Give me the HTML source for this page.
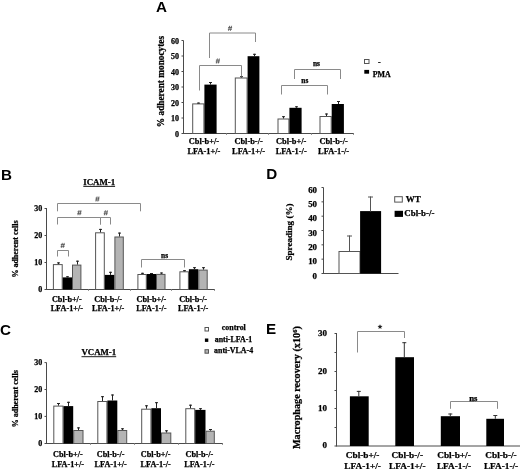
<!DOCTYPE html>
<html><head><meta charset="utf-8"><style>
html,body{margin:0;padding:0;background:#fff;width:520px;height:469px;overflow:hidden}
svg{display:block;filter:blur(0.3px)}
</style></head><body>
<svg width="520" height="469" viewBox="0 0 520 469" shape-rendering="auto">
<rect width="520" height="469" fill="#fff"/>
<text x="161.4" y="11.7" font-family="Liberation Sans" font-weight="bold" font-size="15.2" text-anchor="middle" fill="#000">A</text>
<line x1="183.5" y1="40.5" x2="183.5" y2="134.0" stroke="#4a4a4a" stroke-width="1"/>
<line x1="183.5" y1="133.5" x2="354" y2="133.5" stroke="#4a4a4a" stroke-width="1"/>
<line x1="181.5" y1="133.5" x2="183.5" y2="133.5" stroke="#4a4a4a" stroke-width="1"/>
<text x="179" y="136.5" font-family="Liberation Serif" font-weight="bold" font-size="8" text-anchor="end" fill="#000" stroke="#000" stroke-width="0.25">0</text>
<line x1="181.5" y1="118.0" x2="183.5" y2="118.0" stroke="#4a4a4a" stroke-width="1"/>
<text x="179" y="121.0" font-family="Liberation Serif" font-weight="bold" font-size="8" text-anchor="end" fill="#000" stroke="#000" stroke-width="0.25">10</text>
<line x1="181.5" y1="102.5" x2="183.5" y2="102.5" stroke="#4a4a4a" stroke-width="1"/>
<text x="179" y="105.5" font-family="Liberation Serif" font-weight="bold" font-size="8" text-anchor="end" fill="#000" stroke="#000" stroke-width="0.25">20</text>
<line x1="181.5" y1="87.0" x2="183.5" y2="87.0" stroke="#4a4a4a" stroke-width="1"/>
<text x="179" y="90.0" font-family="Liberation Serif" font-weight="bold" font-size="8" text-anchor="end" fill="#000" stroke="#000" stroke-width="0.25">30</text>
<line x1="181.5" y1="71.5" x2="183.5" y2="71.5" stroke="#4a4a4a" stroke-width="1"/>
<text x="179" y="74.5" font-family="Liberation Serif" font-weight="bold" font-size="8" text-anchor="end" fill="#000" stroke="#000" stroke-width="0.25">40</text>
<line x1="181.5" y1="56.0" x2="183.5" y2="56.0" stroke="#4a4a4a" stroke-width="1"/>
<text x="179" y="59.0" font-family="Liberation Serif" font-weight="bold" font-size="8" text-anchor="end" fill="#000" stroke="#000" stroke-width="0.25">50</text>
<line x1="181.5" y1="40.5" x2="183.5" y2="40.5" stroke="#4a4a4a" stroke-width="1"/>
<text x="179" y="43.5" font-family="Liberation Serif" font-weight="bold" font-size="8" text-anchor="end" fill="#000" stroke="#000" stroke-width="0.25">60</text>
<line x1="226.5" y1="133.5" x2="226.5" y2="135.0" stroke="#999" stroke-width="1"/>
<line x1="268.5" y1="133.5" x2="268.5" y2="135.0" stroke="#999" stroke-width="1"/>
<line x1="311.5" y1="133.5" x2="311.5" y2="135.0" stroke="#999" stroke-width="1"/>
<line x1="353.5" y1="133.5" x2="353.5" y2="135.0" stroke="#999" stroke-width="1"/>
<text x="164.3" y="81.5" font-family="Liberation Serif" font-weight="bold" font-size="9.3" text-anchor="middle" fill="#000" stroke="#000" stroke-width="0.25" transform="rotate(-90 164.3 81.5)">% adherent monocytes</text>
<rect x="192.7" y="103.9" width="11.200000000000017" height="29.599999999999994" fill="#fff" stroke="#555" stroke-width="1"/>
<line x1="198.5" y1="102.6" x2="198.5" y2="103.4" stroke="#222" stroke-width="1"/>
<line x1="197.0" y1="103.1" x2="200.0" y2="103.1" stroke="#222" stroke-width="1"/>
<rect x="204.4" y="84.6" width="12.199999999999989" height="48.900000000000006" fill="#000"/>
<line x1="210.5" y1="82" x2="210.5" y2="84.6" stroke="#222" stroke-width="1"/>
<line x1="209.0" y1="82.5" x2="212.0" y2="82.5" stroke="#222" stroke-width="1"/>
<rect x="235.3" y="78.0" width="11.799999999999983" height="55.5" fill="#fff" stroke="#555" stroke-width="1"/>
<line x1="241.5" y1="76.2" x2="241.5" y2="77.5" stroke="#222" stroke-width="1"/>
<line x1="240.0" y1="76.7" x2="243.0" y2="76.7" stroke="#222" stroke-width="1"/>
<rect x="247.6" y="56.2" width="11.799999999999983" height="77.3" fill="#000"/>
<line x1="254.5" y1="53.8" x2="254.5" y2="56.2" stroke="#222" stroke-width="1"/>
<line x1="253.0" y1="54.3" x2="256.0" y2="54.3" stroke="#222" stroke-width="1"/>
<rect x="278.0" y="119.0" width="10.899999999999977" height="14.5" fill="#fff" stroke="#555" stroke-width="1"/>
<line x1="283.5" y1="116.2" x2="283.5" y2="118.5" stroke="#222" stroke-width="1"/>
<line x1="282.0" y1="116.7" x2="285.0" y2="116.7" stroke="#222" stroke-width="1"/>
<rect x="289.4" y="107.8" width="12.200000000000045" height="25.700000000000003" fill="#000"/>
<line x1="296.5" y1="106.3" x2="296.5" y2="107.8" stroke="#222" stroke-width="1"/>
<line x1="295.0" y1="106.8" x2="298.0" y2="106.8" stroke="#222" stroke-width="1"/>
<rect x="320.0" y="116.5" width="11.199999999999989" height="17.0" fill="#fff" stroke="#555" stroke-width="1"/>
<line x1="326.5" y1="113.5" x2="326.5" y2="116.0" stroke="#222" stroke-width="1"/>
<line x1="325.0" y1="114.0" x2="328.0" y2="114.0" stroke="#222" stroke-width="1"/>
<rect x="331.7" y="104.0" width="12.199999999999989" height="29.5" fill="#000"/>
<line x1="338.5" y1="101.0" x2="338.5" y2="104.0" stroke="#222" stroke-width="1"/>
<line x1="337.0" y1="101.5" x2="340.0" y2="101.5" stroke="#222" stroke-width="1"/>
<polyline points="209.5,58 209.5,33 255.5,33 255.5,42" fill="none" stroke="#8a8a8a" stroke-width="1"/>
<path d="M229.65,25.80L228.55,30.80M231.55,25.80L230.45,30.80M228.10,27.45H232.10M227.90,29.25H231.90" stroke="#555" stroke-width="0.85" fill="none"/>
<polyline points="199.5,90.5 199.5,65.5 241.5,65.5 241.5,76.5" fill="none" stroke="#8a8a8a" stroke-width="1"/>
<path d="M217.45,58.50L216.35,63.50M219.35,58.50L218.25,63.50M215.90,60.15H219.90M215.70,61.95H219.70" stroke="#555" stroke-width="0.85" fill="none"/>
<polyline points="294.5,79 294.5,69.5 340.5,69.5 340.5,79" fill="none" stroke="#8a8a8a" stroke-width="1"/>
<text x="316.4" y="66.0" font-family="Liberation Serif" font-weight="bold" font-size="7.4" text-anchor="middle" fill="#000" stroke="#000" stroke-width="0.25">ns</text>
<polyline points="281.5,94.5 281.5,85.5 327.5,85.5 327.5,94.5" fill="none" stroke="#8a8a8a" stroke-width="1"/>
<text x="304.8" y="83.0" font-family="Liberation Serif" font-weight="bold" font-size="7.4" text-anchor="middle" fill="#000" stroke="#000" stroke-width="0.25">ns</text>
<text x="203.9" y="143.9" font-family="Liberation Serif" font-weight="bold" font-size="8.4" text-anchor="middle" fill="#000" stroke="#000" stroke-width="0.25">Cbl-b+/-</text>
<text x="203.9" y="154.0" font-family="Liberation Serif" font-weight="bold" font-size="8.4" text-anchor="middle" fill="#000" stroke="#000" stroke-width="0.25">LFA-1+/-</text>
<text x="248.6" y="143.9" font-family="Liberation Serif" font-weight="bold" font-size="8.4" text-anchor="middle" fill="#000" stroke="#000" stroke-width="0.25">Cbl-b-/-</text>
<text x="248.6" y="154.0" font-family="Liberation Serif" font-weight="bold" font-size="8.4" text-anchor="middle" fill="#000" stroke="#000" stroke-width="0.25">LFA-1+/-</text>
<text x="291.2" y="143.9" font-family="Liberation Serif" font-weight="bold" font-size="8.4" text-anchor="middle" fill="#000" stroke="#000" stroke-width="0.25">Cbl-b+/-</text>
<text x="291.2" y="154.0" font-family="Liberation Serif" font-weight="bold" font-size="8.4" text-anchor="middle" fill="#000" stroke="#000" stroke-width="0.25">LFA-1-/-</text>
<text x="333.6" y="143.9" font-family="Liberation Serif" font-weight="bold" font-size="8.4" text-anchor="middle" fill="#000" stroke="#000" stroke-width="0.25">Cbl-b-/-</text>
<text x="333.6" y="154.0" font-family="Liberation Serif" font-weight="bold" font-size="8.4" text-anchor="middle" fill="#000" stroke="#000" stroke-width="0.25">LFA-1-/-</text>
<rect x="364.5" y="59.5" width="4.5" height="4" fill="#fff" stroke="#555" stroke-width="1"/>
<rect x="364.3" y="69.9" width="4.8" height="3.8" fill="#000"/>
<text x="378" y="64.5" font-family="Liberation Serif" font-weight="bold" font-size="8" text-anchor="start" fill="#000" stroke="#000" stroke-width="0.25">-</text>
<text x="372.8" y="76.6" font-family="Liberation Serif" font-weight="bold" font-size="7.9" text-anchor="start" fill="#000" stroke="#000" stroke-width="0.25">PMA</text>
<text x="6.6" y="179.8" font-family="Liberation Sans" font-weight="bold" font-size="15.2" text-anchor="middle" fill="#000">B</text>
<text x="99.2" y="184.9" font-family="Liberation Serif" font-weight="bold" font-size="8.9" text-anchor="middle" fill="#000" stroke="#000" stroke-width="0.25">ICAM-1</text>
<line x1="83.3" y1="186.4" x2="115.1" y2="186.4" stroke="#000" stroke-width="0.9"/>
<line x1="46.5" y1="208" x2="46.5" y2="290.0" stroke="#4a4a4a" stroke-width="1"/>
<line x1="46.5" y1="289.5" x2="215" y2="289.5" stroke="#4a4a4a" stroke-width="1"/>
<line x1="44.5" y1="289.5" x2="46.5" y2="289.5" stroke="#4a4a4a" stroke-width="1"/>
<text x="42.2" y="292.2" font-family="Liberation Serif" font-weight="bold" font-size="8" text-anchor="end" fill="#000" stroke="#000" stroke-width="0.25">0</text>
<line x1="44.5" y1="262.5" x2="46.5" y2="262.5" stroke="#4a4a4a" stroke-width="1"/>
<text x="42.2" y="265.2" font-family="Liberation Serif" font-weight="bold" font-size="8" text-anchor="end" fill="#000" stroke="#000" stroke-width="0.25">10</text>
<line x1="44.5" y1="235.5" x2="46.5" y2="235.5" stroke="#4a4a4a" stroke-width="1"/>
<text x="42.2" y="238.2" font-family="Liberation Serif" font-weight="bold" font-size="8" text-anchor="end" fill="#000" stroke="#000" stroke-width="0.25">20</text>
<line x1="44.5" y1="208.5" x2="46.5" y2="208.5" stroke="#4a4a4a" stroke-width="1"/>
<text x="42.2" y="211.2" font-family="Liberation Serif" font-weight="bold" font-size="8" text-anchor="end" fill="#000" stroke="#000" stroke-width="0.25">30</text>
<line x1="88.5" y1="289.5" x2="88.5" y2="291.0" stroke="#999" stroke-width="1"/>
<line x1="130.5" y1="289.5" x2="130.5" y2="291.0" stroke="#999" stroke-width="1"/>
<line x1="171.5" y1="289.5" x2="171.5" y2="291.0" stroke="#999" stroke-width="1"/>
<line x1="214.5" y1="289.5" x2="214.5" y2="291.0" stroke="#999" stroke-width="1"/>
<text x="18.2" y="249" font-family="Liberation Serif" font-weight="bold" font-size="8" text-anchor="middle" fill="#000" stroke="#000" stroke-width="0.25" transform="rotate(-90 18.2 249)">% adherent cells</text>
<rect x="53.4" y="264.6" width="8.800000000000004" height="24.899999999999977" fill="#fff" stroke="#555" stroke-width="1"/>
<line x1="58.5" y1="262.4" x2="58.5" y2="264.1" stroke="#222" stroke-width="1"/>
<line x1="57.0" y1="262.9" x2="60.0" y2="262.9" stroke="#222" stroke-width="1"/>
<rect x="62.7" y="277.4" width="9.299999999999997" height="12.100000000000023" fill="#000"/>
<line x1="67.5" y1="276.3" x2="67.5" y2="277.4" stroke="#222" stroke-width="1"/>
<line x1="66.0" y1="276.8" x2="69.0" y2="276.8" stroke="#222" stroke-width="1"/>
<rect x="72.5" y="265.1" width="8.400000000000006" height="24.399999999999977" fill="#b4b4b4" stroke="#555" stroke-width="1"/>
<line x1="77.5" y1="260.7" x2="77.5" y2="264.6" stroke="#222" stroke-width="1"/>
<line x1="76.0" y1="261.2" x2="79.0" y2="261.2" stroke="#222" stroke-width="1"/>
<rect x="95.6" y="232.8" width="8.700000000000003" height="56.69999999999999" fill="#fff" stroke="#555" stroke-width="1"/>
<line x1="100.5" y1="228.9" x2="100.5" y2="232.3" stroke="#222" stroke-width="1"/>
<line x1="99.0" y1="229.4" x2="102.0" y2="229.4" stroke="#222" stroke-width="1"/>
<rect x="104.8" y="274.9" width="9.600000000000009" height="14.600000000000023" fill="#000"/>
<line x1="110.5" y1="271.8" x2="110.5" y2="274.9" stroke="#222" stroke-width="1"/>
<line x1="109.0" y1="272.3" x2="112.0" y2="272.3" stroke="#222" stroke-width="1"/>
<rect x="114.9" y="237.0" width="8.399999999999991" height="52.5" fill="#b4b4b4" stroke="#555" stroke-width="1"/>
<line x1="119.5" y1="232.6" x2="119.5" y2="236.5" stroke="#222" stroke-width="1"/>
<line x1="118.0" y1="233.1" x2="121.0" y2="233.1" stroke="#222" stroke-width="1"/>
<rect x="137.9" y="274.5" width="8.400000000000006" height="15.0" fill="#fff" stroke="#555" stroke-width="1"/>
<line x1="142.5" y1="272.8" x2="142.5" y2="274.0" stroke="#222" stroke-width="1"/>
<line x1="141.0" y1="273.3" x2="144.0" y2="273.3" stroke="#222" stroke-width="1"/>
<rect x="146.8" y="274.0" width="9.199999999999989" height="15.5" fill="#000"/>
<line x1="151.5" y1="273.0" x2="151.5" y2="274.0" stroke="#222" stroke-width="1"/>
<line x1="150.0" y1="273.5" x2="153.0" y2="273.5" stroke="#222" stroke-width="1"/>
<rect x="156.5" y="274.4" width="8.5" height="15.100000000000023" fill="#b4b4b4" stroke="#555" stroke-width="1"/>
<line x1="161.5" y1="272.5" x2="161.5" y2="273.9" stroke="#222" stroke-width="1"/>
<line x1="160.0" y1="273.0" x2="163.0" y2="273.0" stroke="#222" stroke-width="1"/>
<rect x="179.9" y="271.8" width="8.5" height="17.69999999999999" fill="#fff" stroke="#555" stroke-width="1"/>
<line x1="184.5" y1="270.2" x2="184.5" y2="271.3" stroke="#222" stroke-width="1"/>
<line x1="183.0" y1="270.7" x2="186.0" y2="270.7" stroke="#222" stroke-width="1"/>
<rect x="188.9" y="269.2" width="9.400000000000006" height="20.30000000000001" fill="#000"/>
<line x1="194.5" y1="267.2" x2="194.5" y2="269.2" stroke="#222" stroke-width="1"/>
<line x1="193.0" y1="267.7" x2="196.0" y2="267.7" stroke="#222" stroke-width="1"/>
<rect x="198.8" y="270.1" width="8.399999999999977" height="19.399999999999977" fill="#b4b4b4" stroke="#555" stroke-width="1"/>
<line x1="203.5" y1="267.2" x2="203.5" y2="269.6" stroke="#222" stroke-width="1"/>
<line x1="202.0" y1="267.7" x2="205.0" y2="267.7" stroke="#222" stroke-width="1"/>
<polyline points="57.5,211.3 57.5,203.5 140.5,203.5 140.5,211.3" fill="none" stroke="#8a8a8a" stroke-width="1"/>
<path d="M97.05,196.50L95.95,201.50M98.95,196.50L97.85,201.50M95.50,198.15H99.50M95.30,199.95H99.30" stroke="#555" stroke-width="0.85" fill="none"/>
<polyline points="57.5,224.5 57.5,217.5 100.5,217.5 100.5,224.5" fill="none" stroke="#8a8a8a" stroke-width="1"/>
<path d="M79.05,210.20L77.95,215.20M80.95,210.20L79.85,215.20M77.50,211.85H81.50M77.30,213.65H81.30" stroke="#555" stroke-width="0.85" fill="none"/>
<polyline points="100.5,224.5 100.5,217.5 110.5,217.5 110.5,224.5" fill="none" stroke="#8a8a8a" stroke-width="1"/>
<path d="M105.45,210.30L104.35,215.30M107.35,210.30L106.25,215.30M103.90,211.95H107.90M103.70,213.75H107.70" stroke="#555" stroke-width="0.85" fill="none"/>
<polyline points="57.5,256.5 57.5,250.5 68.5,250.5 68.5,256.5" fill="none" stroke="#8a8a8a" stroke-width="1"/>
<path d="M62.35,242.90L61.25,247.90M64.25,242.90L63.15,247.90M60.80,244.55H64.80M60.60,246.35H64.60" stroke="#555" stroke-width="0.85" fill="none"/>
<polyline points="141.5,267.5 141.5,259.5 184.5,259.5 184.5,267.5" fill="none" stroke="#8a8a8a" stroke-width="1"/>
<text x="164.6" y="258.3" font-family="Liberation Serif" font-weight="bold" font-size="7.4" text-anchor="middle" fill="#000" stroke="#000" stroke-width="0.25">ns</text>
<text x="66.8" y="301.8" font-family="Liberation Serif" font-weight="bold" font-size="8.2" text-anchor="middle" fill="#000" stroke="#000" stroke-width="0.25">Cbl-b+/-</text>
<text x="66.8" y="311.4" font-family="Liberation Serif" font-weight="bold" font-size="8.2" text-anchor="middle" fill="#000" stroke="#000" stroke-width="0.25">LFA-1+/-</text>
<text x="108.1" y="301.8" font-family="Liberation Serif" font-weight="bold" font-size="8.2" text-anchor="middle" fill="#000" stroke="#000" stroke-width="0.25">Cbl-b-/-</text>
<text x="108.1" y="311.4" font-family="Liberation Serif" font-weight="bold" font-size="8.2" text-anchor="middle" fill="#000" stroke="#000" stroke-width="0.25">LFA-1+/-</text>
<text x="151.4" y="301.8" font-family="Liberation Serif" font-weight="bold" font-size="8.2" text-anchor="middle" fill="#000" stroke="#000" stroke-width="0.25">Cbl-b+/-</text>
<text x="151.4" y="311.4" font-family="Liberation Serif" font-weight="bold" font-size="8.2" text-anchor="middle" fill="#000" stroke="#000" stroke-width="0.25">LFA-1-/-</text>
<text x="193.1" y="301.8" font-family="Liberation Serif" font-weight="bold" font-size="8.2" text-anchor="middle" fill="#000" stroke="#000" stroke-width="0.25">Cbl-b-/-</text>
<text x="193.1" y="311.4" font-family="Liberation Serif" font-weight="bold" font-size="8.2" text-anchor="middle" fill="#000" stroke="#000" stroke-width="0.25">LFA-1-/-</text>
<text x="5.5" y="335.3" font-family="Liberation Sans" font-weight="bold" font-size="15.2" text-anchor="middle" fill="#000">C</text>
<text x="98.8" y="355.1" font-family="Liberation Serif" font-weight="bold" font-size="8.8" text-anchor="middle" fill="#000" stroke="#000" stroke-width="0.25">VCAM-1</text>
<line x1="81.5" y1="356.7" x2="116.2" y2="356.7" stroke="#000" stroke-width="0.9"/>
<line x1="46.5" y1="362.5" x2="46.5" y2="444.0" stroke="#4a4a4a" stroke-width="1"/>
<line x1="46.5" y1="443.5" x2="223" y2="443.5" stroke="#4a4a4a" stroke-width="1"/>
<line x1="44.5" y1="443.5" x2="46.5" y2="443.5" stroke="#4a4a4a" stroke-width="1"/>
<text x="42.2" y="446.2" font-family="Liberation Serif" font-weight="bold" font-size="8" text-anchor="end" fill="#000" stroke="#000" stroke-width="0.25">0</text>
<line x1="44.5" y1="416.40000000000003" x2="46.5" y2="416.40000000000003" stroke="#4a4a4a" stroke-width="1"/>
<text x="42.2" y="419.1" font-family="Liberation Serif" font-weight="bold" font-size="8" text-anchor="end" fill="#000" stroke="#000" stroke-width="0.25">10</text>
<line x1="44.5" y1="389.5" x2="46.5" y2="389.5" stroke="#4a4a4a" stroke-width="1"/>
<text x="42.2" y="392.2" font-family="Liberation Serif" font-weight="bold" font-size="8" text-anchor="end" fill="#000" stroke="#000" stroke-width="0.25">20</text>
<line x1="44.5" y1="362.6" x2="46.5" y2="362.6" stroke="#4a4a4a" stroke-width="1"/>
<text x="42.2" y="365.3" font-family="Liberation Serif" font-weight="bold" font-size="8" text-anchor="end" fill="#000" stroke="#000" stroke-width="0.25">30</text>
<line x1="90.5" y1="443.5" x2="90.5" y2="445.0" stroke="#999" stroke-width="1"/>
<line x1="134.5" y1="443.5" x2="134.5" y2="445.0" stroke="#999" stroke-width="1"/>
<line x1="178.5" y1="443.5" x2="178.5" y2="445.0" stroke="#999" stroke-width="1"/>
<line x1="222.5" y1="443.5" x2="222.5" y2="445.0" stroke="#999" stroke-width="1"/>
<text x="18.2" y="398.7" font-family="Liberation Serif" font-weight="bold" font-size="8" text-anchor="middle" fill="#000" stroke="#000" stroke-width="0.25" transform="rotate(-90 18.2 398.7)">% adherent cells</text>
<rect x="53.8" y="406.1" width="9.200000000000003" height="37.39999999999998" fill="#fff" stroke="#555" stroke-width="1"/>
<line x1="58.5" y1="403.0" x2="58.5" y2="405.6" stroke="#222" stroke-width="1"/>
<line x1="57.0" y1="403.5" x2="60.0" y2="403.5" stroke="#222" stroke-width="1"/>
<rect x="63.5" y="406.1" width="9.700000000000003" height="37.39999999999998" fill="#000"/>
<line x1="68.5" y1="401.8" x2="68.5" y2="406.1" stroke="#222" stroke-width="1"/>
<line x1="67.0" y1="402.3" x2="70.0" y2="402.3" stroke="#222" stroke-width="1"/>
<rect x="73.7" y="430.5" width="9.299999999999997" height="13.0" fill="#b4b4b4" stroke="#555" stroke-width="1"/>
<line x1="78.5" y1="427.4" x2="78.5" y2="430.0" stroke="#222" stroke-width="1"/>
<line x1="77.0" y1="427.9" x2="80.0" y2="427.9" stroke="#222" stroke-width="1"/>
<rect x="97.8" y="401.5" width="9.100000000000009" height="42.0" fill="#fff" stroke="#555" stroke-width="1"/>
<line x1="102.5" y1="396.2" x2="102.5" y2="401.0" stroke="#222" stroke-width="1"/>
<line x1="101.0" y1="396.7" x2="104.0" y2="396.7" stroke="#222" stroke-width="1"/>
<rect x="107.4" y="400.5" width="9.899999999999991" height="43.0" fill="#000"/>
<line x1="112.5" y1="394.5" x2="112.5" y2="400.5" stroke="#222" stroke-width="1"/>
<line x1="111.0" y1="395.0" x2="114.0" y2="395.0" stroke="#222" stroke-width="1"/>
<rect x="117.8" y="430.5" width="8.900000000000006" height="13.0" fill="#b4b4b4" stroke="#555" stroke-width="1"/>
<line x1="122.5" y1="428.3" x2="122.5" y2="430.0" stroke="#222" stroke-width="1"/>
<line x1="121.0" y1="428.8" x2="124.0" y2="428.8" stroke="#222" stroke-width="1"/>
<rect x="141.7" y="409.2" width="9.200000000000017" height="34.30000000000001" fill="#fff" stroke="#555" stroke-width="1"/>
<line x1="146.5" y1="405.3" x2="146.5" y2="408.7" stroke="#222" stroke-width="1"/>
<line x1="145.0" y1="405.8" x2="148.0" y2="405.8" stroke="#222" stroke-width="1"/>
<rect x="151.4" y="408.2" width="9.599999999999994" height="35.30000000000001" fill="#000"/>
<line x1="156.5" y1="402.2" x2="156.5" y2="408.2" stroke="#222" stroke-width="1"/>
<line x1="155.0" y1="402.7" x2="158.0" y2="402.7" stroke="#222" stroke-width="1"/>
<rect x="161.5" y="433.0" width="9.300000000000011" height="10.5" fill="#b4b4b4" stroke="#555" stroke-width="1"/>
<line x1="166.5" y1="430.3" x2="166.5" y2="432.5" stroke="#222" stroke-width="1"/>
<line x1="165.0" y1="430.8" x2="168.0" y2="430.8" stroke="#222" stroke-width="1"/>
<rect x="185.8" y="408.7" width="8.899999999999977" height="34.80000000000001" fill="#fff" stroke="#555" stroke-width="1"/>
<line x1="190.5" y1="404.7" x2="190.5" y2="408.2" stroke="#222" stroke-width="1"/>
<line x1="189.0" y1="405.2" x2="192.0" y2="405.2" stroke="#222" stroke-width="1"/>
<rect x="195.2" y="409.9" width="10.300000000000011" height="33.60000000000002" fill="#000"/>
<line x1="200.5" y1="408.2" x2="200.5" y2="409.9" stroke="#222" stroke-width="1"/>
<line x1="199.0" y1="408.7" x2="202.0" y2="408.7" stroke="#222" stroke-width="1"/>
<rect x="206.0" y="431.2" width="8.300000000000011" height="12.300000000000011" fill="#b4b4b4" stroke="#555" stroke-width="1"/>
<line x1="210.5" y1="429.0" x2="210.5" y2="430.7" stroke="#222" stroke-width="1"/>
<line x1="209.0" y1="429.5" x2="212.0" y2="429.5" stroke="#222" stroke-width="1"/>
<text x="67.9" y="457.4" font-family="Liberation Serif" font-weight="bold" font-size="8.2" text-anchor="middle" fill="#000" stroke="#000" stroke-width="0.25">Cbl-b+/-</text>
<text x="67.9" y="466.6" font-family="Liberation Serif" font-weight="bold" font-size="8.2" text-anchor="middle" fill="#000" stroke="#000" stroke-width="0.25">LFA-1+/-</text>
<text x="110.7" y="457.4" font-family="Liberation Serif" font-weight="bold" font-size="8.2" text-anchor="middle" fill="#000" stroke="#000" stroke-width="0.25">Cbl-b-/-</text>
<text x="110.7" y="466.6" font-family="Liberation Serif" font-weight="bold" font-size="8.2" text-anchor="middle" fill="#000" stroke="#000" stroke-width="0.25">LFA-1+/-</text>
<text x="155.7" y="457.4" font-family="Liberation Serif" font-weight="bold" font-size="8.2" text-anchor="middle" fill="#000" stroke="#000" stroke-width="0.25">Cbl-b+/-</text>
<text x="155.7" y="466.6" font-family="Liberation Serif" font-weight="bold" font-size="8.2" text-anchor="middle" fill="#000" stroke="#000" stroke-width="0.25">LFA-1-/-</text>
<text x="199.4" y="457.4" font-family="Liberation Serif" font-weight="bold" font-size="8.2" text-anchor="middle" fill="#000" stroke="#000" stroke-width="0.25">Cbl-b-/-</text>
<text x="199.4" y="466.6" font-family="Liberation Serif" font-weight="bold" font-size="8.2" text-anchor="middle" fill="#000" stroke="#000" stroke-width="0.25">LFA-1-/-</text>
<rect x="205" y="327.5" width="3.5" height="3.5" fill="#fff" stroke="#555" stroke-width="1"/>
<rect x="204.9" y="338.5" width="3.4" height="3.4" fill="#000"/>
<rect x="205" y="349.7" width="3.5" height="3.5" fill="#b4b4b4" stroke="#555" stroke-width="1"/>
<text x="233.8" y="330.2" font-family="Liberation Serif" font-weight="bold" font-size="7.9" text-anchor="middle" fill="#000" stroke="#000" stroke-width="0.25">control</text>
<text x="233.5" y="341.8" font-family="Liberation Serif" font-weight="bold" font-size="7.9" text-anchor="middle" fill="#000" stroke="#000" stroke-width="0.25">anti-LFA-1</text>
<text x="233.6" y="352.6" font-family="Liberation Serif" font-weight="bold" font-size="7.9" text-anchor="middle" fill="#000" stroke="#000" stroke-width="0.25">anti-VLA-4</text>
<text x="271.7" y="179.0" font-family="Liberation Sans" font-weight="bold" font-size="15.2" text-anchor="middle" fill="#000">D</text>
<line x1="323.5" y1="187.5" x2="323.5" y2="274.0" stroke="#4a4a4a" stroke-width="1"/>
<line x1="323.5" y1="273.5" x2="398.5" y2="273.5" stroke="#4a4a4a" stroke-width="1"/>
<line x1="321.5" y1="273.5" x2="323.5" y2="273.5" stroke="#4a4a4a" stroke-width="1"/>
<text x="317" y="278.6" font-family="Liberation Serif" font-weight="bold" font-size="8.9" text-anchor="end" fill="#000" stroke="#000" stroke-width="0.25">0</text>
<line x1="321.5" y1="259.17" x2="323.5" y2="259.17" stroke="#4a4a4a" stroke-width="1"/>
<text x="317" y="264.27000000000004" font-family="Liberation Serif" font-weight="bold" font-size="8.9" text-anchor="end" fill="#000" stroke="#000" stroke-width="0.25">10</text>
<line x1="321.5" y1="244.84" x2="323.5" y2="244.84" stroke="#4a4a4a" stroke-width="1"/>
<text x="317" y="249.94" font-family="Liberation Serif" font-weight="bold" font-size="8.9" text-anchor="end" fill="#000" stroke="#000" stroke-width="0.25">20</text>
<line x1="321.5" y1="230.51" x2="323.5" y2="230.51" stroke="#4a4a4a" stroke-width="1"/>
<text x="317" y="235.60999999999999" font-family="Liberation Serif" font-weight="bold" font-size="8.9" text-anchor="end" fill="#000" stroke="#000" stroke-width="0.25">30</text>
<line x1="321.5" y1="216.18" x2="323.5" y2="216.18" stroke="#4a4a4a" stroke-width="1"/>
<text x="317" y="221.28" font-family="Liberation Serif" font-weight="bold" font-size="8.9" text-anchor="end" fill="#000" stroke="#000" stroke-width="0.25">40</text>
<line x1="321.5" y1="201.85" x2="323.5" y2="201.85" stroke="#4a4a4a" stroke-width="1"/>
<text x="317" y="206.95" font-family="Liberation Serif" font-weight="bold" font-size="8.9" text-anchor="end" fill="#000" stroke="#000" stroke-width="0.25">50</text>
<line x1="321.5" y1="187.51999999999998" x2="323.5" y2="187.51999999999998" stroke="#4a4a4a" stroke-width="1"/>
<text x="317" y="192.61999999999998" font-family="Liberation Serif" font-weight="bold" font-size="8.9" text-anchor="end" fill="#000" stroke="#000" stroke-width="0.25">60</text>
<text x="292.4" y="232" font-family="Liberation Serif" font-weight="bold" font-size="9.1" text-anchor="middle" fill="#000" stroke="#000" stroke-width="0.25" transform="rotate(-90 292.4 232)">Spreading (%)</text>
<rect x="339" y="251.5" width="21" height="22.0" fill="#fff" stroke="#555" stroke-width="1"/>
<line x1="349.5" y1="235.5" x2="349.5" y2="251.5" stroke="#555" stroke-width="1"/>
<line x1="347" y1="236" x2="352" y2="236" stroke="#555" stroke-width="1"/>
<rect x="360.1" y="211.1" width="21" height="62.400000000000006" fill="#000"/>
<line x1="370.5" y1="196.5" x2="370.5" y2="211.5" stroke="#555" stroke-width="1"/>
<line x1="368" y1="197" x2="373" y2="197" stroke="#555" stroke-width="1"/>
<rect x="394.7" y="196.7" width="7.6" height="5.4" fill="#fff" stroke="#555" stroke-width="1"/>
<rect x="394.6" y="210.8" width="8.4" height="6.1" fill="#000"/>
<text x="405.8" y="202.1" font-family="Liberation Serif" font-weight="bold" font-size="9" text-anchor="start" fill="#000" stroke="#000" stroke-width="0.25">WT</text>
<text x="404.3" y="216.2" font-family="Liberation Serif" font-weight="bold" font-size="8.9" text-anchor="start" fill="#000" stroke="#000" stroke-width="0.25">Cbl-b-/-</text>
<text x="271.1" y="334.3" font-family="Liberation Sans" font-weight="bold" font-size="15.2" text-anchor="middle" fill="#000">E</text>
<line x1="336.5" y1="333" x2="336.5" y2="446.5" stroke="#4a4a4a" stroke-width="1"/>
<line x1="336.5" y1="446" x2="520" y2="446" stroke="#4a4a4a" stroke-width="1"/>
<line x1="334.5" y1="446" x2="336.5" y2="446" stroke="#4a4a4a" stroke-width="1"/>
<text x="327" y="448.1" font-family="Liberation Serif" font-weight="bold" font-size="9" text-anchor="end" fill="#000" stroke="#000" stroke-width="0.25">0</text>
<line x1="334.5" y1="427.5" x2="336.5" y2="427.5" stroke="#4a4a4a" stroke-width="1"/>
<line x1="334.5" y1="408.5" x2="336.5" y2="408.5" stroke="#4a4a4a" stroke-width="1"/>
<text x="327" y="410.6" font-family="Liberation Serif" font-weight="bold" font-size="9" text-anchor="end" fill="#000" stroke="#000" stroke-width="0.25">10</text>
<line x1="334.5" y1="390.5" x2="336.5" y2="390.5" stroke="#4a4a4a" stroke-width="1"/>
<line x1="334.5" y1="371.5" x2="336.5" y2="371.5" stroke="#4a4a4a" stroke-width="1"/>
<text x="327" y="373.6" font-family="Liberation Serif" font-weight="bold" font-size="9" text-anchor="end" fill="#000" stroke="#000" stroke-width="0.25">20</text>
<line x1="334.5" y1="352.5" x2="336.5" y2="352.5" stroke="#4a4a4a" stroke-width="1"/>
<line x1="334.5" y1="333.5" x2="336.5" y2="333.5" stroke="#4a4a4a" stroke-width="1"/>
<text x="327" y="335.6" font-family="Liberation Serif" font-weight="bold" font-size="9" text-anchor="end" fill="#000" stroke="#000" stroke-width="0.25">30</text>
<text x="300.1" y="387.6" font-family="Liberation Serif" font-weight="bold" font-size="10.2" text-anchor="middle" fill="#000" stroke="#000" stroke-width="0.25" transform="rotate(-90 300.1 387.6)">Macrophage recovery (x10<tspan dy="-3.5" font-size="6.5">6</tspan><tspan dy="3.5">)</tspan></text>
<rect x="349.9" y="396.3" width="18.80000000000001" height="49.69999999999999" fill="#000"/>
<line x1="358.8" y1="390.9" x2="358.8" y2="396.3" stroke="#333" stroke-width="1"/>
<line x1="356.8" y1="391.4" x2="360.8" y2="391.4" stroke="#333" stroke-width="1"/>
<rect x="395.3" y="357.2" width="18.69999999999999" height="88.80000000000001" fill="#000"/>
<line x1="404.3" y1="342.2" x2="404.3" y2="357.2" stroke="#333" stroke-width="1"/>
<line x1="402.3" y1="342.7" x2="406.3" y2="342.7" stroke="#333" stroke-width="1"/>
<rect x="440.8" y="416.2" width="19.19999999999999" height="29.80000000000001" fill="#000"/>
<line x1="450.3" y1="413.5" x2="450.3" y2="416.2" stroke="#333" stroke-width="1"/>
<line x1="448.3" y1="414.0" x2="452.3" y2="414.0" stroke="#333" stroke-width="1"/>
<rect x="486.3" y="418.8" width="17.69999999999999" height="27.19999999999999" fill="#000"/>
<line x1="495.3" y1="415.0" x2="495.3" y2="418.8" stroke="#333" stroke-width="1"/>
<line x1="493.3" y1="415.5" x2="497.3" y2="415.5" stroke="#333" stroke-width="1"/>
<polyline points="357.5,352.5 357.5,331.5 404.5,331.5 404.5,338" fill="none" stroke="#8a8a8a" stroke-width="1"/>
<polygon points="380.00,324.20 380.69,325.85 382.47,326.00 381.11,327.16 381.53,328.90 380.00,327.97 378.47,328.90 378.89,327.16 377.53,326.00 379.31,325.85" fill="#222"/>
<polyline points="450.5,408.8 450.5,401.5 497.5,401.5 497.5,408.8" fill="none" stroke="#8a8a8a" stroke-width="1"/>
<text x="473.3" y="400.7" font-family="Liberation Serif" font-weight="bold" font-size="8.8" text-anchor="middle" fill="#000" stroke="#000" stroke-width="0.25">ns</text>
<text x="362.6" y="457.9" font-family="Liberation Serif" font-weight="bold" font-size="9.25" text-anchor="middle" fill="#000" stroke="#000" stroke-width="0.25">Cbl-b+/-</text>
<text x="362.6" y="468.5" font-family="Liberation Serif" font-weight="bold" font-size="9.25" text-anchor="middle" fill="#000" stroke="#000" stroke-width="0.25">LFA-1+/-</text>
<text x="407.3" y="457.9" font-family="Liberation Serif" font-weight="bold" font-size="9.25" text-anchor="middle" fill="#000" stroke="#000" stroke-width="0.25">Cbl-b-/-</text>
<text x="407.3" y="468.5" font-family="Liberation Serif" font-weight="bold" font-size="9.25" text-anchor="middle" fill="#000" stroke="#000" stroke-width="0.25">LFA-1+/-</text>
<text x="454" y="457.9" font-family="Liberation Serif" font-weight="bold" font-size="9.25" text-anchor="middle" fill="#000" stroke="#000" stroke-width="0.25">Cbl-b+/-</text>
<text x="454" y="468.5" font-family="Liberation Serif" font-weight="bold" font-size="9.25" text-anchor="middle" fill="#000" stroke="#000" stroke-width="0.25">LFA-1-/-</text>
<text x="501" y="457.9" font-family="Liberation Serif" font-weight="bold" font-size="9.25" text-anchor="middle" fill="#000" stroke="#000" stroke-width="0.25">Cbl-b-/-</text>
<text x="501" y="468.5" font-family="Liberation Serif" font-weight="bold" font-size="9.25" text-anchor="middle" fill="#000" stroke="#000" stroke-width="0.25">LFA-1-/-</text>
</svg>
</body></html>
